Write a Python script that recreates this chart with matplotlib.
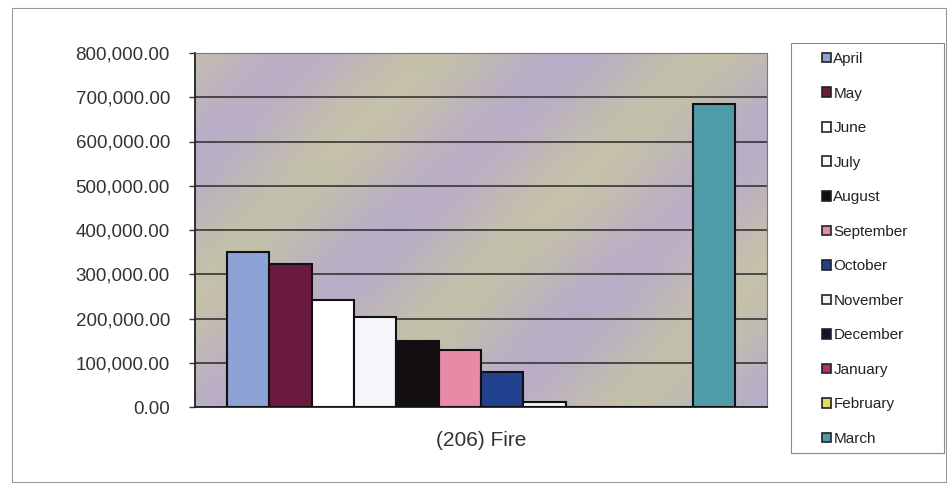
import numpy as np
import matplotlib
matplotlib.use("Agg")
from matplotlib import pyplot as plt
from matplotlib.patches import Patch, Rectangle
from matplotlib.ticker import FuncFormatter

plt.rcParams['font.family'] = ['Liberation Sans', 'DejaVu Sans']

# data
months = ['April', 'May', 'June', 'July', 'August', 'September',
          'October', 'November', 'December', 'January', 'February', 'March']
values = [350000, 323000, 241000, 203000, 149000, 128000,
          79000, 11000, 1000, 500, 0, 684000]
category = '(206) Fire'
colors = ['#8da3d6', '#6b1a3f', '#ffffff', '#f4f6fa', '#140e12', '#e889a6',
          '#22418f', '#f2f2f7', '#10103a', '#b03070', '#e0e060', '#4f9ba8']
yticks = [0, 100000, 200000, 300000, 400000, 500000, 600000, 700000, 800000]

W, H = 949, 487
fig = plt.figure(figsize=(W / 100, H / 100), dpi=100)
fig.patch.set_facecolor('white')

# outer chart border
fig.patches.append(Rectangle((12 / W, 1 - 482 / H), 934 / W, 474 / H,
                             transform=fig.transFigure, fill=False,
                             edgecolor='#9a9a9a', linewidth=0.8))
# legend border
fig.patches.append(Rectangle((791 / W, 1 - 453 / H), 153 / W, 410 / H,
                             transform=fig.transFigure, fill=False,
                             edgecolor='#8a8a8a', linewidth=0.8))

ax = fig.add_axes([195 / W, 1 - 407 / H, 572 / W, 354 / H])

# textured pastel background of the plot area
gx, gy = np.meshgrid(np.linspace(0, 1, 300), np.linspace(0, 1, 200))
u = gx * 1.6 + gy * 1.0
t = 0.5 + 0.5 * np.cos(u * 2 * np.pi * 1.3 + 0.8)
s = 0.5 + 0.5 * np.cos((gx * 0.7 - gy * 1.2) * 2 * np.pi * 1.1)
lav = np.array([0.72, 0.68, 0.78])
kha = np.array([0.77, 0.77, 0.64])
pnk = np.array([0.80, 0.70, 0.76])
img = (t[..., None] * kha + (1 - t[..., None]) * lav) * 0.8 + \
      (s[..., None] * pnk + (1 - s[..., None]) * lav) * 0.2
ax.imshow(img, extent=[0, 1, 0, 1], transform=ax.transAxes, aspect='auto',
          zorder=0, origin='upper')

x = np.arange(len(months))
for i in range(len(months)):
    ax.bar(x[i], values[i], width=1.0, color=colors[i], edgecolor='#111111',
           linewidth=1.5, zorder=3, label=months[i])

ax.set_xlim(-1.25, 12.25)
ax.set_ylim(0, 800000)
ax.set_yticks(yticks)
ax.yaxis.set_major_formatter(FuncFormatter(lambda v, p: f'{v:,.2f}'))
ax.grid(axis='y', color='#2a2a2a', linewidth=1.1, zorder=1)
ax.set_axisbelow(True)
ax.set_xticks([])
ax.tick_params(axis='y', length=4, width=1, color='#333333',
               labelsize=13.5, labelcolor='#333333', pad=14)
for side in ['left', 'bottom']:
    ax.spines[side].set_color('#222222')
    ax.spines[side].set_linewidth(1.3)
for side in ['top', 'right']:
    ax.spines[side].set_color('#777777')
    ax.spines[side].set_linewidth(0.8)
ax.set_xlabel(category, fontsize=15, color='#333333', labelpad=17)

handles = [Patch(facecolor=c, edgecolor='#222222', linewidth=1.2) for c in colors]
leg = fig.legend(handles, months, loc='upper left',
                 bbox_to_anchor=(822 / W, 1 - 52 / H),
                 frameon=False, fontsize=11,
                 handlelength=0.6, handleheight=0.6, handletextpad=0.15,
                 labelspacing=1.345, borderpad=0, borderaxespad=0)
for txt in leg.get_texts():
    txt.set_color('#222222')

fig.savefig('out.png', dpi=100)
